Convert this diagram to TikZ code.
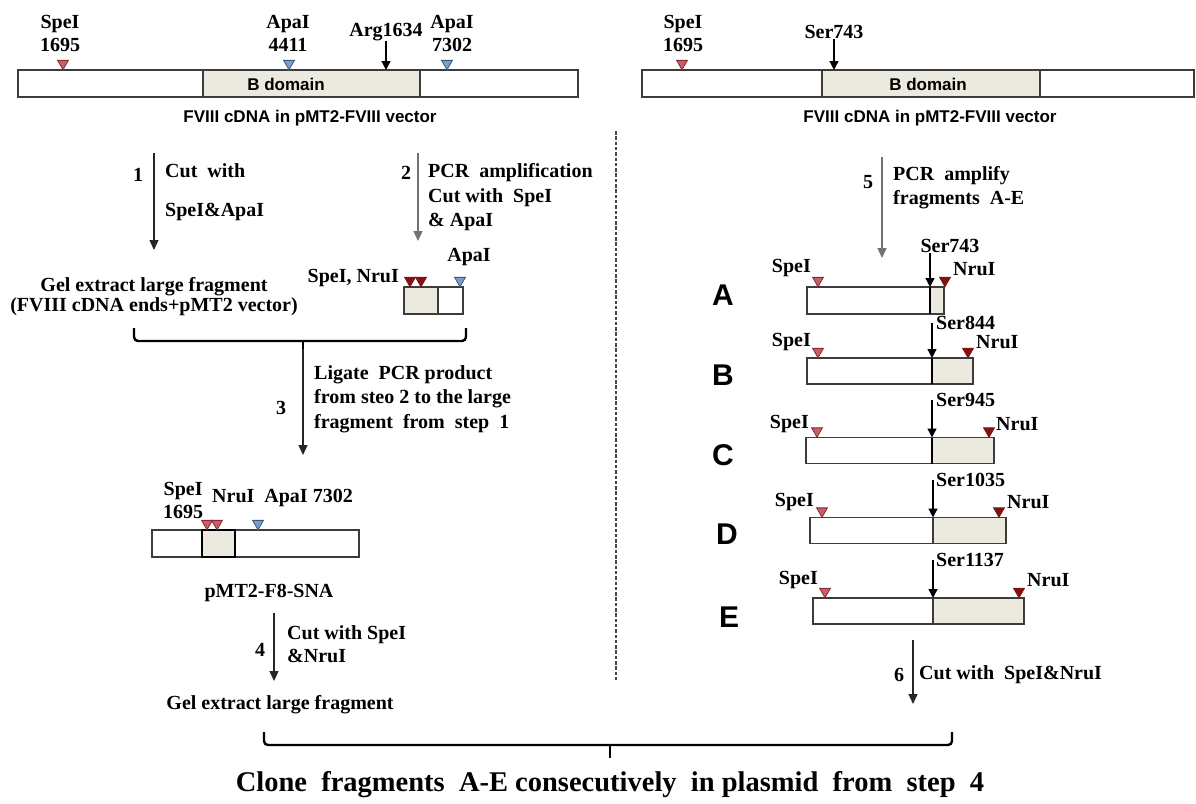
\documentclass[tikz,border=0pt]{standalone}
\usepackage{fontspec}
\setmainfont{Liberation Serif}
\setsansfont{Liberation Sans}
\usetikzlibrary{shapes.geometric, arrows.meta, positioning, calc}

\definecolor{bdom}{RGB}{236,234,223}
\definecolor{speFill}{RGB}{196,96,104}
\definecolor{speDraw}{RGB}{140,40,48}
\definecolor{nruRed}{RGB}{128,18,18}
\definecolor{apaFill}{RGB}{120,158,200}
\definecolor{apaDraw}{RGB}{60,88,128}
\definecolor{barline}{RGB}{60,60,60}

\begin{document}
\begin{tikzpicture}[x=1pt, y=-1pt,
  lbl/.style={font=\fontsize{20}{22.5}\selectfont\bfseries, inner sep=0pt, align=center},
  steptxt/.style={font=\fontsize{20}{24.5}\selectfont\bfseries, inner sep=0pt, align=left, anchor=west},
  sanslbl/.style={font=\sffamily\bfseries\fontsize{17}{20}\selectfont, inner sep=0pt},
  fraglbl/.style={font=\sffamily\bfseries\fontsize{30}{32}\selectfont, inner sep=0pt},
  bar/.style={draw=barline, fill=white, line width=1.3pt, inner sep=0pt, outer sep=0pt},
  bshade/.style={draw=barline, fill=bdom, line width=1.3pt},
  cutline/.style={line width=2pt, black},
  site/.style={regular polygon, regular polygon sides=3, shape border rotate=180, minimum size=12.5pt, inner sep=0pt, line width=0.8pt},
  spe/.style={site, draw=speDraw, fill=speFill},
  nru/.style={site, draw=nruRed, fill=nruRed},
  apa/.style={site, draw=apaDraw, fill=apaFill},
  marker/.style={line width=1.3pt, -{Triangle[width=9pt,length=9pt]}},
  steparrow/.style={line width=1.3pt, black!85, -{Triangle[width=9pt,length=10pt]}},
  greyarrow/.style={steparrow, draw=black!55, fill=black},
  brace/.style={line width=2.4pt, rounded corners=4pt},
  dashline/.style={line width=2.4pt, black!72, dash pattern=on 3.5pt off 1.8pt}]

\useasboundingbox (0,0) rectangle (1196,803);

% ---- top left: full FVIII cDNA
\node[bar, minimum width=560pt, minimum height=27pt] (fviiiL) at (298,83.5) {};
\draw[bshade] (203,70) rectangle (420,97);
\node[sanslbl] (bdomL) at (286,84) {B domain};
\node[lbl] (speLlbl) at (60,33.5) {SpeI\\1695};
\node[lbl] (apa1lbl) at (288,33.5) {ApaI\\4411};
\node[lbl] (arglbl) at (386,32) {Arg1634};
\node[lbl] (apa2lbl) at (452,33.5) {ApaI\\7302};
\node[spe] (speL) at (63,63.5) {};
\node[apa] (apa1) at (289,63.5) {};
\node[apa] (apa2) at (447,63.5) {};
\draw[marker] (arglbl) -- (arglbl |- fviiiL.north);
\node[sanslbl] (capL) at (310,118) {FVIII cDNA in pMT2-FVIII vector};

% ---- top right: full FVIII cDNA
\node[bar, minimum width=552pt, minimum height=27pt] (fviiiR) at (918,83.5) {};
\draw[bshade] (822,70) rectangle (1040,97);
\node[sanslbl] (bdomR) at (928,84) {B domain};
\node[lbl] (speRlbl) at (683,33.5) {SpeI\\1695};
\node[lbl] (serRlbl) at (834,32) {Ser743};
\node[spe] (speR) at (682,63.5) {};
\draw[marker] (serRlbl) -- (serRlbl |- fviiiR.north);
\node[sanslbl] (capR) at (930,118) {FVIII cDNA in pMT2-FVIII vector};

% divider
\coordinate (dashTop) at (616,131);
\coordinate (dashBot) at (616,681);
\draw[dashline] (dashTop) -- (dashBot);

% ---- steps 1 and 2
\coordinate (s1a) at (154,153);
\coordinate (s1b) at (154,250);
\draw[steparrow] (s1a) -- (s1b);
\node[lbl] (n1) at (138,175) {1};
\node[steptxt] (t1) at (165,192.5) {Cut~~with\\[14.5pt]SpeI\&ApaI};

\coordinate (s2a) at (418,153);
\coordinate (s2b) at (418,241);
\draw[greyarrow] (s2a) -- (s2b);
\node[lbl] (n2) at (406,173) {2};
\node[steptxt] (t2) at (428,197.5) {PCR~~amplification\\Cut with~~SpeI\\\& ApaI};

\node[lbl, font=\fontsize{20}{20}\selectfont\bfseries] (gel1) at (154,297) {Gel extract large fragment\\(FVIII cDNA ends+pMT2 vector)};

\node[bar, minimum width=59pt, minimum height=27pt] (pcrfrag) at (433.5,300.5) {};
\draw[bshade] (404,287) rectangle (438,314);
\node[nru] (nruP1) at (410,280.5) {};
\node[nru] (nruP2) at (421,280.5) {};
\node[apa] (apaP) at (460,280.5) {};
\node[lbl, anchor=east] (spnru) at (399,278) {SpeI, NruI};
\node[lbl] (apaPlbl) at (469,257) {ApaI};

% brace joining steps 1 and 2
\draw[brace] (134,328) -- (134,341) -- (466,341) -- (466,328);
\draw[brace] (303,341) -- (303,349);

% ---- step 3
\coordinate (s3a) at (303,349);
\coordinate (s3b) at (303,455);
\draw[steparrow] (s3a) -- (s3b);
\node[lbl] (n3) at (281,408) {3};
\node[steptxt] (t3) at (314,399) {Ligate~~PCR product\\from steo 2 to the large\\fragment~~from~~step~~1};

\node[bar, minimum width=207pt, minimum height=27pt] (snabar) at (255.5,543.5) {};
\draw[bshade, draw=black, line width=1.6pt] (202,530) rectangle (235,557);
\node[spe] (speS) at (207,523.5) {};
\node[spe] (nruS) at (217,523.5) {};
\node[apa] (apaS) at (258,523.5) {};
\node[lbl, anchor=west] (speSlbl) at (163,500.5) {SpeI\\1695};
\node[lbl, anchor=west] (nruapa) at (212,498) {NruI~~ApaI 7302};
\node[lbl] (snalbl) at (269,593) {pMT2-F8-SNA};

% ---- step 4
\coordinate (s4a) at (274,613);
\coordinate (s4b) at (274,681);
\draw[steparrow] (s4a) -- (s4b);
\node[lbl] (n4) at (260,650) {4};
\node[steptxt, font=\fontsize{20}{23}\selectfont\bfseries] (t4) at (287,644.5) {Cut with SpeI\\\&NruI};
\node[lbl] (gel2) at (280,705) {Gel extract large fragment};

% ---- step 5
\coordinate (s5a) at (882,157);
\coordinate (s5b) at (882,258);
\draw[greyarrow] (s5a) -- (s5b);
\node[lbl] (n5) at (868,182) {5};
\node[steptxt] (t5) at (893,187.5) {PCR~~amplify\\fragments~~A-E};

% fragment A
\node[fraglbl] (labA) at (723,295) {A};
\node[bar, minimum width=137pt, minimum height=27pt] (fragA) at (875.5,300.5) {};
\draw[bshade] (930,287) rectangle (944,314);
\draw[cutline] (930,287) -- (930,314);
\node[spe] (speA) at (818,280.5) {};
\node[nru] (nruA) at (945,280.5) {};
\node[lbl, anchor=east] (speAlbl) at (811,268) {SpeI};
\node[lbl, anchor=west] (nruAlbl) at (953,269) {NruI};
\node[lbl] (serA) at (950,246) {Ser743};
\coordinate (cutA) at (930,287);
\draw[marker] (cutA |- serA.south) -- (cutA);

% fragment B
\node[fraglbl] (labB) at (723,375) {B};
\node[bar, minimum width=166pt, minimum height=26pt] (fragB) at (890,371) {};
\draw[bshade] (932,358) rectangle (973,384);
\draw[cutline] (932,358) -- (932,384);
\node[spe] (speB) at (818,351.5) {};
\node[nru] (nruB) at (968,351.5) {};
\node[lbl, anchor=east] (speBlbl) at (811,342) {SpeI};
\node[lbl, anchor=west] (nruBlbl) at (976,342) {NruI};
\node[lbl, anchor=west] (serB) at (936,323) {Ser844};
\coordinate (cutB) at (932,358);
\draw[marker] (cutB |- serB.west) -- (cutB);

% fragment C
\node[fraglbl] (labC) at (723,455) {C};
\node[bar, minimum width=188pt, minimum height=26pt] (fragC) at (900,450.5) {};
\draw[bshade] (932,437.5) rectangle (994,463.5);
\draw[cutline] (932,437.5) -- (932,463.5);
\node[spe] (speC) at (817,431) {};
\node[nru] (nruC) at (989,431) {};
\node[lbl, anchor=east] (speClbl) at (809,424) {SpeI};
\node[lbl, anchor=west] (nruClbl) at (996,424) {NruI};
\node[lbl, anchor=west] (serC) at (936,400) {Ser945};
\coordinate (cutC) at (932,437.5);
\draw[marker] (cutC |- serC.west) -- (cutC);

% fragment D
\node[fraglbl] (labD) at (727,534) {D};
\node[bar, minimum width=196pt, minimum height=26pt] (fragD) at (908,530.5) {};
\draw[bshade] (933,517.5) rectangle (1006,543.5);
\node[spe] (speD) at (822,511) {};
\node[nru] (nruD) at (999,511) {};
\node[lbl, anchor=east] (speDlbl) at (814,502) {SpeI};
\node[lbl, anchor=west] (nruDlbl) at (1007,502) {NruI};
\node[lbl, anchor=west] (serD) at (936,480) {Ser1035};
\coordinate (cutD) at (933,517.5);
\draw[marker] (cutD |- serD.west) -- (cutD);

% fragment E
\node[fraglbl] (labE) at (729,617) {E};
\node[bar, minimum width=211pt, minimum height=26pt] (fragE) at (918.5,611) {};
\draw[bshade] (933,598) rectangle (1024,624);
\node[spe] (speE) at (825,591.5) {};
\node[nru] (nruE) at (1019,591.5) {};
\node[lbl, anchor=east] (speElbl) at (818,580) {SpeI};
\node[lbl, anchor=west] (nruElbl) at (1027,580) {NruI};
\node[lbl, anchor=west] (serE) at (936,560) {Ser1137};
\coordinate (cutE) at (933,598);
\draw[marker] (cutE |- serE.west) -- (cutE);

% ---- step 6
\coordinate (s6a) at (913,640);
\coordinate (s6b) at (913,704);
\draw[steparrow] (s6a) -- (s6b);
\node[lbl] (n6) at (899,675) {6};
\node[steptxt] (t6) at (919,675) {Cut with~~SpeI\&NruI};

% bottom brace and result
\draw[brace] (264,732) -- (264,745) -- (952,745) -- (952,732);
\draw[brace] (610,745) -- (610,758);
\node[lbl, font=\fontsize{28.5}{30}\selectfont\bfseries] (clone) at (610,785) {Clone~~fragments~~A-E consecutively~~in plasmid~~from~~step~~4};

\end{tikzpicture}
\end{document}
